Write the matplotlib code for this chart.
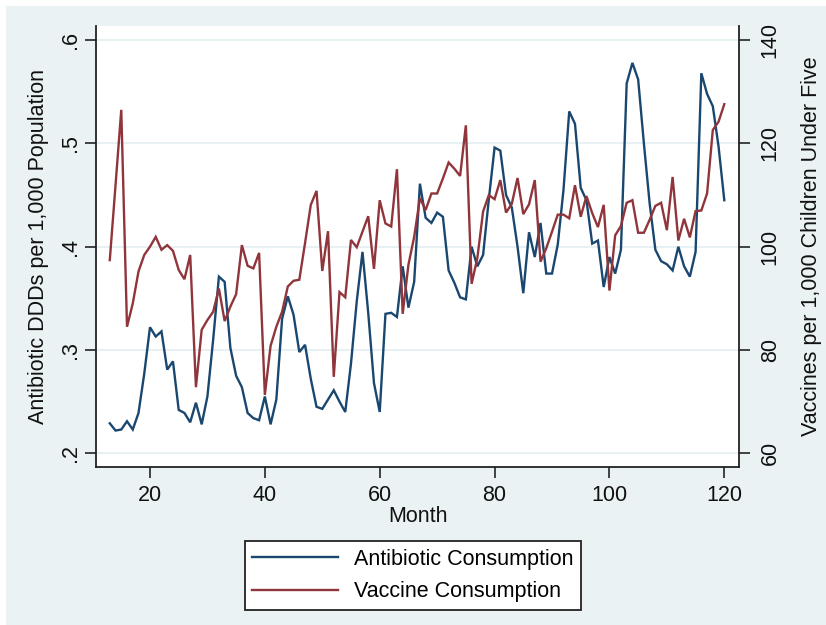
import numpy as np
import matplotlib
matplotlib.use("Agg")
import matplotlib.pyplot as plt
from matplotlib.patches import Rectangle

plt.rcParams['font.family'] = ['Liberation Sans', 'DejaVu Sans']

months = np.arange(13, 121)

antibiotic = [
    0.229, 0.222, 0.223, 0.231, 0.223, 0.239, 0.277, 0.322, 0.313, 0.318,
    0.281, 0.289, 0.242, 0.239, 0.230, 0.249, 0.228, 0.255, 0.310, 0.371,
    0.366, 0.302, 0.275, 0.264, 0.239, 0.234, 0.232, 0.255, 0.228, 0.252,
    0.330, 0.352, 0.334, 0.298, 0.305, 0.272, 0.245, 0.243, 0.252, 0.261,
    0.250, 0.240, 0.287, 0.347, 0.395, 0.336, 0.268, 0.240, 0.335, 0.336,
    0.332, 0.381, 0.341, 0.366, 0.461, 0.428, 0.423, 0.433, 0.429, 0.377,
    0.365, 0.351, 0.349, 0.400, 0.381, 0.392, 0.446, 0.496, 0.493, 0.450,
    0.438, 0.400, 0.355, 0.414, 0.390, 0.423, 0.374, 0.374, 0.402, 0.455,
    0.531, 0.519, 0.457, 0.445, 0.403, 0.406, 0.361, 0.390, 0.374, 0.397,
    0.558, 0.578, 0.562, 0.500, 0.442, 0.397, 0.386, 0.383, 0.377, 0.400,
    0.381, 0.371, 0.395, 0.568, 0.548, 0.536, 0.497, 0.445,
]

vaccine = [
    97.4, 111.9, 126.5, 84.5, 89.0, 95.2, 98.4, 100.0, 101.9, 99.4,
    100.3, 99.2, 95.5, 93.7, 98.4, 72.8, 83.9, 85.8, 87.4, 91.9,
    85.6, 88.4, 90.8, 100.3, 96.3, 95.8, 98.8, 71.3, 80.8, 84.5,
    87.4, 92.3, 93.4, 93.6, 100.7, 108.1, 110.8, 95.3, 103.0, 74.8,
    91.2, 90.2, 101.3, 99.9, 102.9, 105.9, 95.7, 109.0, 104.5, 103.9,
    115.0, 87.0, 96.5, 101.9, 109.4, 107.1, 110.3, 110.3, 113.2, 116.3,
    115.1, 113.7, 123.5, 92.8, 97.8, 106.8, 110.0, 109.2, 112.9, 106.6,
    108.3, 113.3, 106.3, 108.2, 112.9, 97.1, 99.7, 102.9, 106.2, 106.2,
    105.5, 111.9, 105.8, 109.8, 106.5, 103.8, 108.1, 91.5, 102.2, 104.0,
    108.5, 109.0, 102.7, 102.7, 105.2, 107.9, 108.5, 103.2, 113.5, 101.2,
    105.4, 101.8, 106.9, 107.0, 110.3, 122.6, 124.2, 127.6,
]

x_ticks = [20, 40, 60, 80, 100, 120]
left_ticks = [0.2, 0.3, 0.4, 0.5, 0.6]
left_labels = ['.2', '.3', '.4', '.5', '.6']
right_ticks = [60, 80, 100, 120, 140]
series_names = ['Antibiotic Consumption', 'Vaccine Consumption']

NAVY = '#1A476F'
MAROON = '#90353B'
BG = '#EAF2F3'
GRID = '#E3EDF0'
FS = 15.5

W, H = 826, 625
fig = plt.figure(figsize=(W / 100, H / 100), dpi=100)
fig.patch.set_facecolor('white')
fig.add_artist(Rectangle((6 / W, 0), 1, (H - 6) / H, transform=fig.transFigure,
                         facecolor=BG, edgecolor='none', zorder=-10))

L, R, T, B = 96, 739, 26, 466.7
ax = fig.add_axes([L / W, 1 - B / H, (R - L) / W, (B - T) / H])
ax.set_facecolor('white')
ax2 = ax.twinx()

l1, = ax.plot(months, antibiotic, color=NAVY, lw=1.7, solid_joinstyle='miter')
l2, = ax2.plot(months, vaccine, color=MAROON, lw=1.7, solid_joinstyle='miter')

ax.set_xlim(10.6, 122.56)
ax.set_ylim(0.187, 0.6137)
ax2.set_ylim(57.4, 142.73)

ax.set_xticks(x_ticks)
ax.set_yticks(left_ticks)
ax.set_yticklabels(left_labels)
ax2.set_yticks(right_ticks)

ax.grid(axis='y', color=GRID, lw=1.2)
ax.grid(axis='x', visible=False)
ax.set_axisbelow(True)

ax.spines['top'].set_visible(False)
ax2.spines['top'].set_visible(False)
ax.spines['right'].set_visible(False)
ax2.spines['left'].set_visible(False)
ax2.spines['bottom'].set_visible(False)
for sp in (ax.spines['left'], ax.spines['bottom'], ax2.spines['right']):
    sp.set_color('#222222')
    sp.set_linewidth(1.3)

ax.tick_params(axis='x', direction='out', length=8, width=1.3, color='#333333',
               labelsize=FS, pad=5, labelcolor='#111111')
ax.tick_params(axis='y', direction='out', length=8, width=1.3, color='#333333',
               labelsize=FS, pad=3, labelcolor='#111111', labelrotation=90)
ax2.tick_params(axis='y', direction='out', length=8, width=1.3, color='#333333',
                labelsize=FS, pad=7, labelcolor='#111111', labelrotation=90)
for lab in ax.get_yticklabels():
    lab.set_va('center')
for lab in ax2.get_yticklabels():
    lab.set_va('center')

ax.set_xlabel('Month', fontsize=FS, color='#111111')
ax.xaxis.set_label_coords(0.5, (B - 517) / (B - T))
ax.xaxis.label.set_va('center')

ax.set_ylabel('Antibiotic DDDs per 1,000 Population', fontsize=FS, color='#111111')
ax.yaxis.set_label_coords((39 - L) / (R - L), 0.5)
ax.yaxis.label.set_va('center')

ax2.set_ylabel('Vaccines per 1,000 Children Under Five', fontsize=FS, color='#111111',
               rotation=90)
ax2.yaxis.set_label_coords((812 - L) / (R - L), 0.5)
ax2.yaxis.label.set_va('center')

leg = fig.legend([l1, l2], series_names, loc='center',
                 bbox_to_anchor=(413 / W, 1 - 575.5 / H), fontsize=FS,
                 frameon=True, fancybox=False, framealpha=1, edgecolor='#222222',
                 handlelength=4.0, handletextpad=0.75, labelspacing=0.55,
                 borderpad=0.33, borderaxespad=0)
leg.get_frame().set_linewidth(1.3)
for ln in leg.get_lines():
    ln.set_linewidth(1.7)

fig.savefig('out.png', dpi=100)
